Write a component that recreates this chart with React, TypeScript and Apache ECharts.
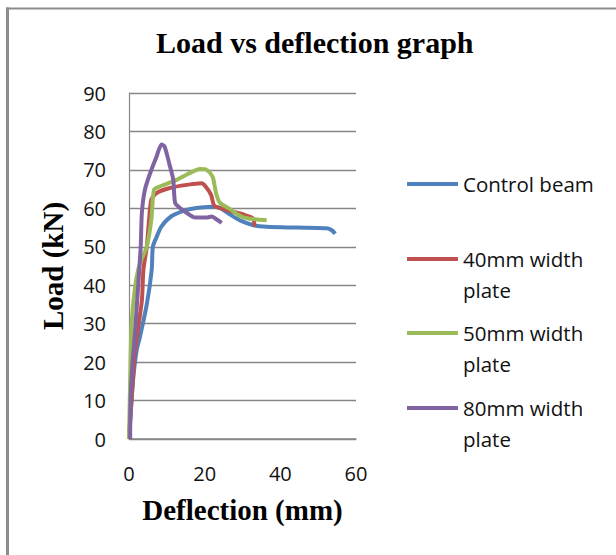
import React, { useEffect, useRef } from "react";
import * as echarts from "echarts";

const seriesNames = ["Control beam", "40mm width plate", "50mm width plate", "80mm width plate"];
const seriesColors = ["#4F81BD", "#C0504D", "#9BBB59", "#8064A2"];

const controlX = [0, 1.0, 2.0, 2.9, 4.7, 6.0, 6.3, 7.1, 8.6, 11.3, 15.3, 19.0, 22.3, 24.0, 26.7, 29.5, 32.9, 36.4, 44.3, 52.3, 53.6, 54.5];
const controlY = [0, 14.5, 23, 26.6, 35, 44, 50, 52.1, 55.3, 58, 59.6, 60.2, 60.4, 60.1, 58.4, 56.8, 55.6, 55.2, 55.0, 54.8, 54.3, 53.4];

const w40X = [0, 0.8, 1.6, 3.4, 3.8, 4.7, 5.3, 5.9, 7.3, 10.8, 15.3, 19.2, 20.3, 21.7, 22.5, 24.0, 26.7, 30.2, 32.9, 33.1];
const w40Y = [0, 12, 23, 36, 44, 50, 57, 62.2, 64, 65.3, 66.1, 66.5, 65.6, 63.5, 60.7, 60.1, 59.3, 58.4, 57.3, 55.3];

const w50X = [0, 0.3, 0.6, 1.2, 2.0, 3.0, 4.7, 5.9, 6.6, 7.9, 12.6, 15.3, 18.8, 20.5, 22.1, 23.0, 24.0, 26.7, 29.4, 31.9, 36.4];
const w50Y = [0, 15, 28, 36, 42, 46, 50, 57, 64.8, 65.6, 67.4, 68.8, 70.2, 70, 68.2, 64, 61.5, 59.8, 58, 57.3, 56.9];

const w80X = [0.3, 0.4, 0.8, 1.5, 2.1, 2.7, 3.1, 3.4, 4.2, 5.6, 7.3, 8.6, 9.4, 10.7, 11.7, 12.2, 13.5, 15.3, 17.5, 20.5, 21.9, 23.2, 24.5];
const w80Y = [0, 9, 18, 26.6, 35, 44, 50, 58.8, 64.8, 69.2, 73.5, 76.6, 76.1, 71.4, 67.4, 61.4, 60.1, 58.8, 57.6, 57.6, 57.9, 57.1, 56.2];

const xTicks = { min: 0, max: 60, interval: 20 };
const yTicks = { min: 0, max: 90, interval: 10 };

const titleText = "Load vs deflection graph";
const xName = "Deflection (mm)";
const yName = "Load (kN)";

function pairs(xs: number[], ys: number[]) {
  return xs.map((x, i) => [x, ys[i]]);
}

export default function App() {
  const ref = useRef<HTMLDivElement>(null);
  useEffect(() => {
    if (!ref.current) return;
    const chart = echarts.init(ref.current, null, { renderer: "svg" });
    const allData = [
      pairs(controlX, controlY),
      pairs(w40X, w40Y),
      pairs(w50X, w50Y),
      pairs(w80X, w80Y),
    ];
    const legendFirstLine = [184, 259, 333, 408];
    const legends = seriesNames.map((name, i) => {
      const twoLine = name.indexOf(" plate") > 0;
      const textH = twoLine ? 93 : 31;
      return {
        data: [{ name, icon: "rect" }],
        orient: "vertical",
        left: 407,
        top: legendFirstLine[i] - textH / 2,
        padding: 0,
        itemWidth: 51,
        itemHeight: 4,
        itemGap: 0,
        selectedMode: false,
        formatter: (n: string) =>
          n.indexOf(" plate") > 0 ? " \n" + n.replace(" plate", "\nplate") : n,
        textStyle: {
          fontFamily: "Open Sans",
          fontSize: 20.5,
          color: "#111",
          lineHeight: 31,
        },
      };
    });
    chart.setOption({
      animation: false,
      backgroundColor: "#fff",
      title: {
        text: titleText,
        left: 156,
        top: 27,
        padding: 0,
        textStyle: {
          fontFamily: "Liberation Serif",
          fontWeight: "bold",
          fontSize: 30,
          color: "#000",
        },
      },
      legend: legends,
      grid: { left: 129, top: 93, width: 227, height: 346, containLabel: false },
      xAxis: {
        type: "value",
        min: xTicks.min,
        max: xTicks.max,
        interval: xTicks.interval,
        name: xName,
        nameLocation: "middle",
        nameGap: 56,
        nameTextStyle: {
          fontFamily: "Liberation Serif",
          fontWeight: "bold",
          fontSize: 29,
          color: "#000",
        },
        axisLine: { show: true, lineStyle: { color: "#868686", width: 1.5 } },
        axisTick: { show: false },
        splitLine: { show: false },
        axisLabel: {
          margin: 24,
          fontFamily: "Open Sans",
          fontSize: 20,
          color: "#111",
        },
      },
      yAxis: {
        type: "value",
        min: yTicks.min,
        max: yTicks.max,
        interval: yTicks.interval,
        name: yName,
        nameLocation: "middle",
        nameGap: 62,
        nameTextStyle: {
          fontFamily: "Liberation Serif",
          fontWeight: "bold",
          fontSize: 29,
          color: "#000",
        },
        axisLine: { show: true, lineStyle: { color: "#868686", width: 1.2 } },
        axisTick: { show: false },
        splitLine: { show: true, lineStyle: { color: "#868686", width: 1.3 } },
        axisLabel: {
          margin: 23,
          fontFamily: "Open Sans",
          fontSize: 20,
          color: "#111",
        },
      },
      graphic: [
        {
          type: "line",
          shape: { x1: 6, y1: 8.5, x2: 616, y2: 8.5 },
          style: { stroke: "#8c8c8c", lineWidth: 2 },
          silent: true,
        },
        {
          type: "line",
          shape: { x1: 7.5, y1: 7.5, x2: 7.5, y2: 555 },
          style: { stroke: "#8c8c8c", lineWidth: 3 },
          silent: true,
        },
      ],
      series: seriesNames.map((name, i) => ({
        name,
        type: "line",
        data: allData[i],
        showSymbol: false,
        symbol: "none",
        smooth: 0.25,
        lineStyle: { color: seriesColors[i], width: 4 },
        itemStyle: { color: seriesColors[i] },
        z: 2 + i,
      })),
    });
    return () => chart.dispose();
  }, []);
  return (
    <div
      ref={ref}
      style={{ position: "fixed", left: 0, top: 0, width: 616, height: 555 }}
    />
  );
}
